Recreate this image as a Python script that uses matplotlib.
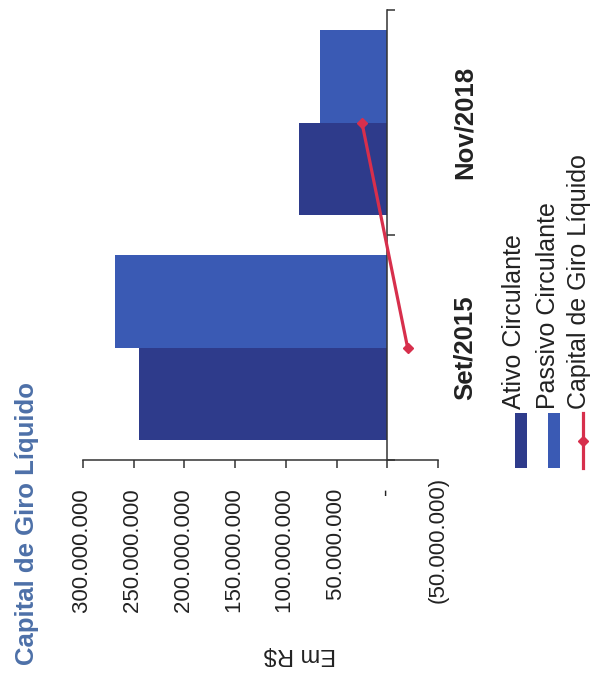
import matplotlib
matplotlib.use("Agg")
import matplotlib.pyplot as plt
from matplotlib.patches import Rectangle
from matplotlib.lines import Line2D
from matplotlib.ticker import FixedLocator

plt.rcParams['font.family'] = ['Liberation Sans', 'DejaVu Sans']

# Data (R$)
categories = ["Set/2015", "Nov/2018"]
ativo_circulante = [245_000_000, 87_000_000]
passivo_circulante = [268_000_000, 66_000_000]
capital_giro_liquido = [-20_000_000, 25_000_000]
value_ticks = [300_000_000, 250_000_000, 200_000_000, 150_000_000,
               100_000_000, 50_000_000, 0, -50_000_000]
series_names = ["Ativo Circulante", "Passivo Circulante", "Capital de Giro Líquido"]

COL_ATIVO = "#2e3b8b"
COL_PASSIVO = "#3a5ab4"
COL_CGL = "#d72f4c"
COL_TITLE = "#4d70a8"
COL_AXIS = "#333333"

W, H = 592, 675
fig = plt.figure(figsize=(W / 100, H / 100), dpi=100)


def fx(px):
    return px / W


def fy(py):
    return (H - py) / H


# Rotated page layout: values run right-to-left, categories bottom-to-top
ax = fig.add_axes([fx(83), fy(460), fx(438) - fx(83), fy(10) - fy(460)])

pos = list(range(len(categories)))
bh = 0.41
ax.barh([p - bh / 2 for p in pos], ativo_circulante, height=bh, color=COL_ATIVO, linewidth=0)
ax.barh([p + bh / 2 for p in pos], passivo_circulante, height=bh, color=COL_PASSIVO, linewidth=0)
ax.plot(capital_giro_liquido, pos, color=COL_CGL, lw=2.3, marker="D", ms=5.5,
        markerfacecolor=COL_CGL, markeredgecolor=COL_CGL, zorder=5)

ax.set_xlim(value_ticks[0], value_ticks[-1])
ax.set_ylim(-0.5, len(categories) - 0.5)


def fmt_value(v):
    if v == 0:
        return "-  "
    s = f"{abs(v):,}".replace(",", ".")
    return f"({s})" if v < 0 else s + "  "


ax.set_xticks(value_ticks, labels=[fmt_value(v) for v in value_ticks],
              rotation=90, fontsize=16, color="#222222")
ax.tick_params(axis="x", direction="out", length=6, width=1.1, color=COL_AXIS, pad=6)

# Category axis sits at zero, with boundary ticks between categories
for s in ("top", "right"):
    ax.spines[s].set_visible(False)
ax.spines["left"].set_position(("data", 0))
ax.spines["left"].set_color(COL_AXIS)
ax.spines["left"].set_linewidth(1.1)
ax.spines["bottom"].set_color(COL_AXIS)
ax.spines["bottom"].set_linewidth(1.1)

ax.set_yticks(pos, labels=categories, rotation=90, va="center",
              fontsize=18.5, fontweight="bold", color="#222222")
ax.yaxis.set_minor_locator(FixedLocator([p - 0.5 for p in pos] + [pos[-1] + 0.5]))
ax.tick_params(axis="y", which="major", left=False, right=False,
               labelleft=False, labelright=True, pad=7)
ax.tick_params(axis="y", which="minor", left=True, right=False, direction="in",
               length=6, width=1.1, color=COL_AXIS)
for lbl in ax.get_yticklabels():
    lbl.set_y(lbl.get_position()[1])

# Title and unit label
fig.text(fx(27), fy(665), "Capital de Giro Líquido", rotation=90, ha="center", va="bottom",
         fontsize=18.5, fontweight="bold", color=COL_TITLE)
fig.text(fx(300), fy(654), "Em R$", rotation=180, ha="center", va="center",
         fontsize=17, color="#222222")

# Legend
leg_x = [521, 554, 583]
leg_top, leg_bot = 413, 468
for x, col in zip(leg_x[:2], [COL_ATIVO, COL_PASSIVO]):
    fig.add_artist(Rectangle((fx(x - 6), fy(leg_bot)), fx(12), fy(leg_top) - fy(leg_bot),
                             transform=fig.transFigure, facecolor=col, edgecolor="none"))
fig.add_artist(Line2D([fx(leg_x[2]), fx(leg_x[2])], [fy(leg_bot), fy(leg_top)],
                      transform=fig.transFigure, color=COL_CGL, lw=2.3))
fig.add_artist(Line2D([fx(leg_x[2])], [fy((leg_top + leg_bot) / 2)], transform=fig.transFigure,
                      color=COL_CGL, marker="D", ms=5.5, lw=0))
for x, name in zip([514, 548, 579], series_names):
    fig.text(fx(x), fy(409), name, rotation=90, ha="center", va="bottom",
             fontsize=18, color="#222222")

fig.savefig("out.png", dpi=100)
